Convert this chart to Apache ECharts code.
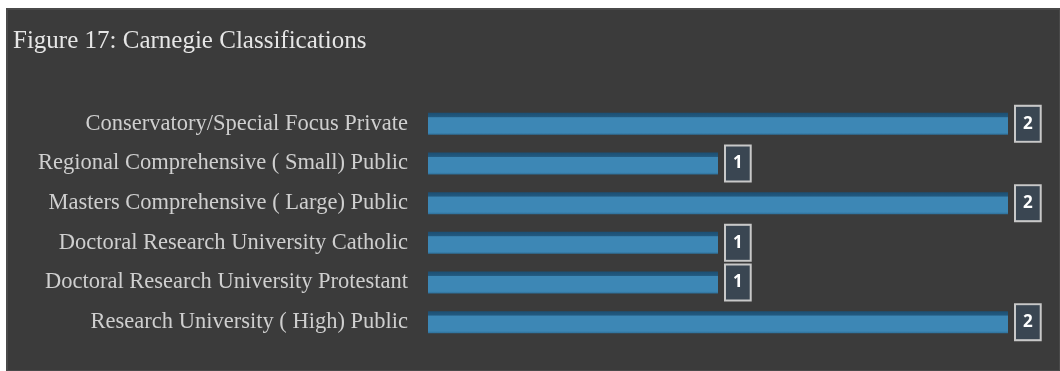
<!DOCTYPE html>
<html>
<head>
<meta charset="utf-8">
<script src="https://cdn.jsdelivr.net/npm/echarts@6/dist/echarts.min.js"></script>
<style>
  html, body { margin: 0; padding: 0; background: #ffffff; }
  #chart { width: 1060px; height: 371px; }
</style>
</head>
<body>
<div id="chart"></div>
<script>
// Carnegie classification counts
const titleText = 'Figure 17: Carnegie Classifications';
const categories = [
  'Conservatory/Special Focus Private',
  'Regional Comprehensive ( Small) Public',
  'Masters Comprehensive ( Large) Public',
  'Doctoral Research University Catholic',
  'Doctoral Research University Protestant',
  'Research University ( High) Public'
];
const counts = [2, 1, 2, 1, 1, 2];

const chart = echarts.init(document.getElementById('chart'), null, { renderer: 'canvas' });

chart.setOption({
  backgroundColor: '#ffffff',
  animation: false,
  title: {
    text: titleText,
    left: 8,
    top: 24,
    textStyle: {
      fontFamily: 'Liberation Serif',
      fontWeight: 'normal',
      fontSize: 25,
      color: '#e6e6e6'
    }
  },
  graphic: [
    {
      type: 'rect',
      z: -10,
      silent: true,
      shape: { x: 7, y: 9, width: 1053, height: 362 },
      style: { fill: '#3b3b3b', stroke: '#4a4a4a', lineWidth: 2 }
    }
  ],
  grid: { left: 428, right: 52, top: 104, bottom: 29 },
  xAxis: {
    type: 'value',
    min: 0,
    max: 2,
    show: false
  },
  yAxis: {
    type: 'category',
    data: categories,
    inverse: true,
    axisLine: { show: false },
    axisTick: { show: false },
    axisLabel: {
      margin: 20,
      fontFamily: 'Liberation Serif',
      fontSize: 22.5,
      color: '#cfcfcf'
    }
  },
  series: [
    {
      type: 'bar',
      data: counts,
      barWidth: 22,
      itemStyle: {
        color: new echarts.graphic.LinearGradient(0, 0, 0, 1, [
          { offset: 0, color: '#1c4f73' },
          { offset: 0.18, color: '#22597f' },
          { offset: 0.22, color: '#3d87b5' },
          { offset: 0.9, color: '#3d87b5' },
          { offset: 1, color: '#2d6f99' }
        ])
      },
      label: {
        show: true,
        position: 'right',
        distance: 8,
        fontFamily: 'Open Sans',
        fontWeight: 'bold',
        fontSize: 17,
        color: '#ffffff',
        backgroundColor: '#3a4652',
        borderColor: '#c8c8c8',
        borderWidth: 2,
        padding: [8, 7, 7, 7],
        lineHeight: 19
      }
    }
  ]
});
</script>
</body>
</html>
